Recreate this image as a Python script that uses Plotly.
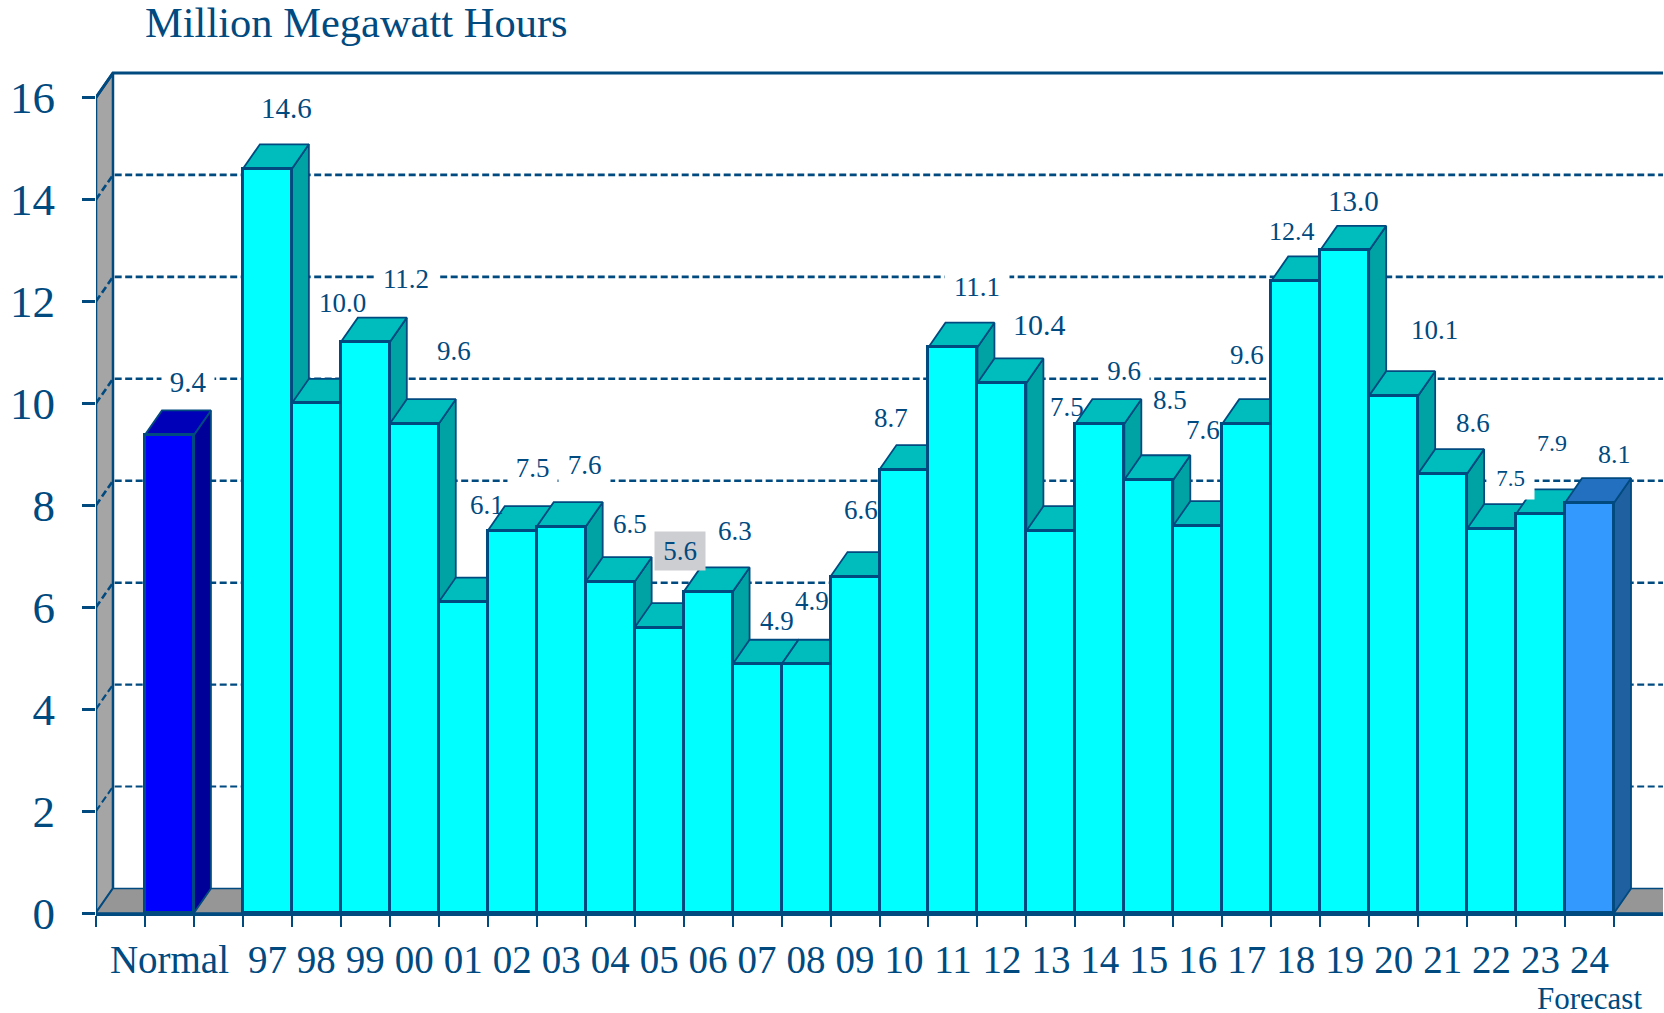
import plotly.graph_objects as go

# ---- data ----
categories = ["Normal", "97", "98", "99", "00", "01", "02", "03", "04", "05", "06", "07", "08", "09",
              "10", "11", "12", "13", "14", "15", "16", "17", "18", "19", "20", "21", "22", "23", "24"]
value_labels = ["9.4", "14.6", "10.0", "11.2", "9.6", "6.1", "7.5", "7.6", "6.5", "5.6", "6.3", "4.9", "4.9", "6.6",
                "8.7", "11.1", "10.4", "7.5", "9.6", "8.5", "7.6", "9.6", "12.4", "13.0", "10.1", "8.6", "7.5", "7.9", "8.1"]
values = [9.38, 14.6, 10.0, 11.2, 9.6, 6.1, 7.5, 7.58, 6.5, 5.6, 6.3, 4.88, 4.88, 6.6,
          8.7, 11.1, 10.4, 7.5, 9.6, 8.5, 7.6, 9.6, 12.4, 13.0, 10.15, 8.62, 7.54, 7.83, 8.05]
y_ticks = [0, 2, 4, 6, 8, 10, 12, 14, 16]

# label offsets from each bar's top centre, in pixels
label_dx = [18.8, 19.5, 25.7, 40.3, 40, 24, 20.7, 23.7, 20.1, 21.2, 27.3, 19.7, 5.7, 5.5,
            -12.7, 24.2, 37.9, 16.4, 23.7, 21.3, 5.3, 0.5, -3.6, 8.9, 40.5, 30.7, 19, 11.3, 24.8]
label_dy = [53.2, 60.7, 100.2, 63.4, 72.8, 97.4, 63.1, 61.2, 58, 76.2, 60.7, 43, 63.1, 66.6,
            51.9, 60, 58.6, 123.6, 52.6, 80.1, 95.2, 68.6, 49.9, 49, 66.1, 50.7, 50.5, 70.7, 47.8]
label_size = [27] * 29
label_size[0] = 29
label_size[1] = 29
label_size[16] = 30
label_size[22] = 26
label_size[23] = 29
label_size[26] = 23
label_size[27] = 24
label_size[28] = 26
# index -> (width, height) of the white box behind a label
white_masks = {0: (50, 28), 3: (60, 28), 6: (47, 34), 7: (49, 38), 15: (62, 28), 18: (48, 28), 26: (45, 39)}
grey_masks = {9: (48, 36)}

# ---- styling / geometry ----
INK = "#004A80"
LEFT, BOTTOM = 95.5, 99.5
SLOT_PX, UNIT_PX = 49.0, 51.0
W, H = 1664, 1013
DX, DY = 17 / SLOT_PX, 24.5 / UNIT_PX
FONT = "Liberation Serif"
PLOT_W, PLOT_H = 32 * SLOT_PX, H - BOTTOM

slots = [1] + list(range(3, 31))   # slot 0, 2 and 31 stay empty
x_range = [-0.5, 31.5]
y_range = [0, PLOT_H / UNIT_PX]
grid_widths = {2: 2.0, 4: 2.2, 6: 2.5, 8: 2.6, 10: 2.6, 12: 2.6, 14: 2.6}


def colours(i):
    if i == 0:
        return "#0000FF", "#0000B8", "#000099"
    if i == len(values) - 1:
        return "#3399FF", "#2470C0", "#1F60A0"
    return "#00FFFF", "#00BDBD", "#00A3A3"


def poly(xs, ys, fill, width=1.8):
    return go.Scatter(x=xs, y=ys, mode="lines", fill="toself", fillcolor=fill,
                      line=dict(color=INK, width=width), hoverinfo="skip", showlegend=False)


fig = go.Figure()

# walls and floor
fx0, fx1 = x_range
wall_x = fx0 + DX
fig.add_trace(poly([fx0, wall_x, wall_x, fx0, fx0], [0, DY, y_ticks[-1] + DY, y_ticks[-1], 0], "#A5A5A5", 2.5))
fig.add_trace(poly([fx0, wall_x, fx1 + 1, fx1 + 1, fx0], [0, DY, DY, 0, 0], "#969696", 1.5))

# gridlines on back wall and left wall
for t in y_ticks[1:-1]:
    fig.add_trace(go.Scatter(x=[fx0, wall_x, fx1], y=[t, t + DY, t + DY], mode="lines",
                             line=dict(color=INK, width=grid_widths[t], dash="7px,3.5px"),
                             hoverinfo="skip", showlegend=False))
# solid back-wall top
fig.add_trace(go.Scatter(x=[fx0, wall_x, fx1], y=[y_ticks[-1], y_ticks[-1] + DY, y_ticks[-1] + DY], mode="lines",
                         line=dict(color=INK, width=3), hoverinfo="skip", showlegend=False))
fig.add_trace(go.Scatter(x=[wall_x, wall_x], y=[DY, y_ticks[-1] + DY], mode="lines",
                         line=dict(color=INK, width=2), hoverinfo="skip", showlegend=False))

# side and top faces, left to right
for i, (s, v) in enumerate(zip(slots, values)):
    front, top, side = colours(i)
    l, r = s - 0.5, s + 0.5
    fig.add_trace(poly([r, r + DX, r + DX, r, r], [0, DY, v + DY, v, 0], side))
    fig.add_trace(poly([l, l + DX, r + DX, r, l], [v, v + DY, v + DY, v, v], top))

# front faces: real bars on an overlaying axis pair
fig.add_trace(go.Bar(x=slots, y=values, width=1.0, xaxis="x2", yaxis="y2",
                     marker=dict(color=[colours(i)[0] for i in range(len(values))],
                                 line=dict(color=INK, width=3)),
                     hoverinfo="skip", showlegend=False))

annotations = []
for i, (s, v) in enumerate(zip(slots, values)):
    a = dict(x=s, y=v, xref="x", yref="y", text=value_labels[i], showarrow=False,
             xanchor="center", yanchor="middle", xshift=label_dx[i], yshift=label_dy[i],
             font=dict(family=FONT, size=label_size[i], color=INK))
    if i in white_masks:
        a.update(bgcolor="#FFFFFF", width=white_masks[i][0], height=white_masks[i][1])
    if i in grey_masks:
        a.update(bgcolor="#CDCED2", width=grey_masks[i][0], height=grey_masks[i][1])
    annotations.append(a)

annotations.append(dict(x=(143 - LEFT) / PLOT_W, y=1 - 23 / PLOT_H, xref="paper", yref="paper",
                        xanchor="left", yanchor="middle",
                        text="Million Megawatt Hours", showarrow=False,
                        font=dict(family=FONT, size=42.5, color=INK)))
annotations.append(dict(x=slots[-1], y=0, xref="x", yref="y", xanchor="center", yanchor="middle",
                        yshift=-85, text="Forecast", showarrow=False,
                        font=dict(family=FONT, size=31, color=INK)))

xa = dict(range=x_range, tickmode="array", tickvals=slots, ticktext=categories,
          ticks="", showgrid=False, zeroline=False, showline=True, linecolor=INK, linewidth=2.5,
          tickfont=dict(family=FONT, size=39, color=INK), ticklabelstandoff=10,
          minor=dict(tickmode="array", tickvals=[k - 0.5 for k in range(0, 32)], ticks="outside",
                     ticklen=11, tickcolor=INK, tickwidth=1.5, showgrid=False))
ya = dict(range=y_range, tickmode="array", tickvals=y_ticks, ticks="outside", ticklen=13,
          tickcolor=INK, tickwidth=2.5, showgrid=False, zeroline=False, showline=False,
          tickfont=dict(family=FONT, size=45, color=INK), ticklabelstandoff=18)

fig.update_layout(
    width=W, height=H, autosize=False, margin=dict(l=LEFT, r=W - LEFT - PLOT_W, t=0, b=BOTTOM, pad=0),
    paper_bgcolor="#FFFFFF", plot_bgcolor="#FFFFFF", showlegend=False, barmode="overlay", bargap=0,
    xaxis=xa, yaxis=ya,
    xaxis2=dict(range=x_range, overlaying="x", visible=False),
    yaxis2=dict(range=y_range, overlaying="y", visible=False),
    annotations=annotations,
)

fig.write_html("out.html", post_script="document.body.style.margin='0';", config={"displayModeBar": False})
